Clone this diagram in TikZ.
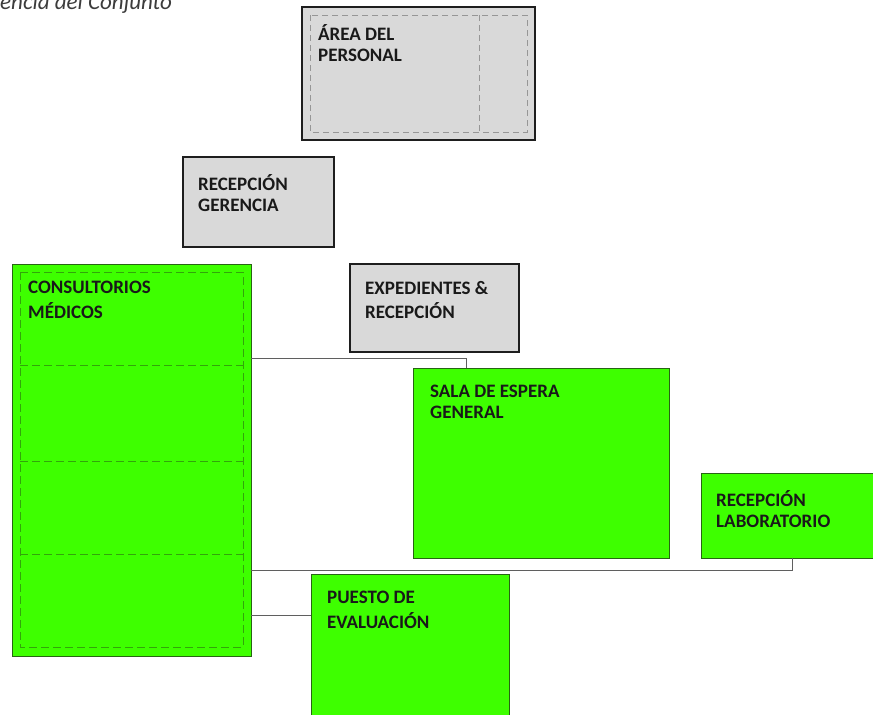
\documentclass[tikz,border=0pt]{standalone}
\usepackage{fontspec}
\setmainfont{Carlito}
\usetikzlibrary{calc}
\definecolor{roomgreen}{RGB}{62,255,0}
\definecolor{greenedge}{RGB}{40,100,20}
\definecolor{greendash}{RGB}{50,165,10}
\definecolor{roomgray}{RGB}{217,217,217}
\definecolor{grayedge}{RGB}{30,30,30}
\definecolor{graydash}{RGB}{150,150,150}
\definecolor{linkgray}{RGB}{95,95,95}
\definecolor{titlegray}{RGB}{60,60,60}
\begin{document}
\begin{tikzpicture}[x=1pt,y=-1pt,
  room/.style={draw, anchor=north west, inner sep=0pt, outer sep=0pt},
  grayroom/.style={room, fill=roomgray, draw=grayedge, line width=1.3pt},
  greenroom/.style={room, fill=roomgreen, draw=greenedge, line width=1pt},
  % two-line labels, placed by the baseline of their last line
  lbl/.style={anchor=base west, inner sep=0pt, align=left, text=black!90,
    font=\bfseries\fontsize{19}{#1}\selectfont},
  lbl/.default=21,
  graydashes/.style={draw=graydash, line width=0.7pt, dash pattern=on 6pt off 4pt},
  greendashes/.style={draw=greendash, line width=0.7pt, dash pattern=on 8pt off 4pt},
  link/.style={draw=linkgray, line width=1pt}]
\useasboundingbox (0,0) rectangle (873,715);
\clip (0,0) rectangle (873,715);

% heading, partly outside the sheet
\node[anchor=base west, inner sep=0pt, text=titlegray,
  font=\itshape\fontsize{23}{27}\selectfont] (title) at (0,9) {encia del Conjunto};

% staff area with its inner subdivision
\node[grayroom, minimum width=233pt, minimum height=133pt] (staff) at (302,7) {};
\draw[graydashes] ($(staff.north west)+(8,8)$) rectangle ($(staff.south east)+(-8,-8)$);
\draw[graydashes] (staff.north -| 479,0) ++(0,8) -- ($(staff.south -| 479,0)+(0,-8)$);
\node[lbl] (staffT) at (318,61) {ÁREA DEL\\PERSONAL};

% management reception
\node[grayroom, minimum width=151pt, minimum height=90pt] (mgmt) at (183,157) {};
\node[lbl] (mgmtT) at (198,211) {RECEPCIÓN\\GERENCIA};

% records and reception
\node[grayroom, minimum width=169pt, minimum height=88pt] (records) at (350,264) {};
\node[lbl=24] (recordsT) at (365,318) {EXPEDIENTES \&\\RECEPCIÓN};

% medical offices, split into four rooms
\node[greenroom, minimum width=239pt, minimum height=392pt] (offices) at (12,264) {};
\draw[greendashes] ($(offices.north west)+(8,8)$) rectangle ($(offices.south east)+(-8,-9)$);
\foreach \yy in {365,461,554}
  \draw[greendashes] ($(offices.west |- 0,\yy)+(8,0)$) -- ($(offices.east |- 0,\yy)+(-8,0)$);
\node[lbl=25] (officesT) at (28,318) {CONSULTORIOS\\MÉDICOS};

% general waiting room
\node[greenroom, minimum width=256pt, minimum height=190pt] (waiting) at (413,368) {};
\node[lbl] (waitingT) at (430,418) {SALA DE ESPERA\\GENERAL};

% laboratory reception, running past the right edge
\node[greenroom, minimum width=190pt, minimum height=85pt] (lab) at (701,473) {};
\node[lbl] (labT) at (716,527) {RECEPCIÓN\\LABORATORIO};

% evaluation post, running past the bottom edge
\node[greenroom, minimum width=198pt, minimum height=170pt] (eval) at (311,574) {};
\node[lbl=25] (evalT) at (327,628) {PUESTO DE\\EVALUACIÓN};

% connections from the medical offices
\draw[link] (offices.east |- 0,358) -| (waiting.north -| 466,0);
\draw[link] (offices.east |- 0,570) -| (lab.south -| 792,0);
\draw[link] (offices.east |- 0,615) -- (eval.west |- 0,615);
\end{tikzpicture}
\end{document}
